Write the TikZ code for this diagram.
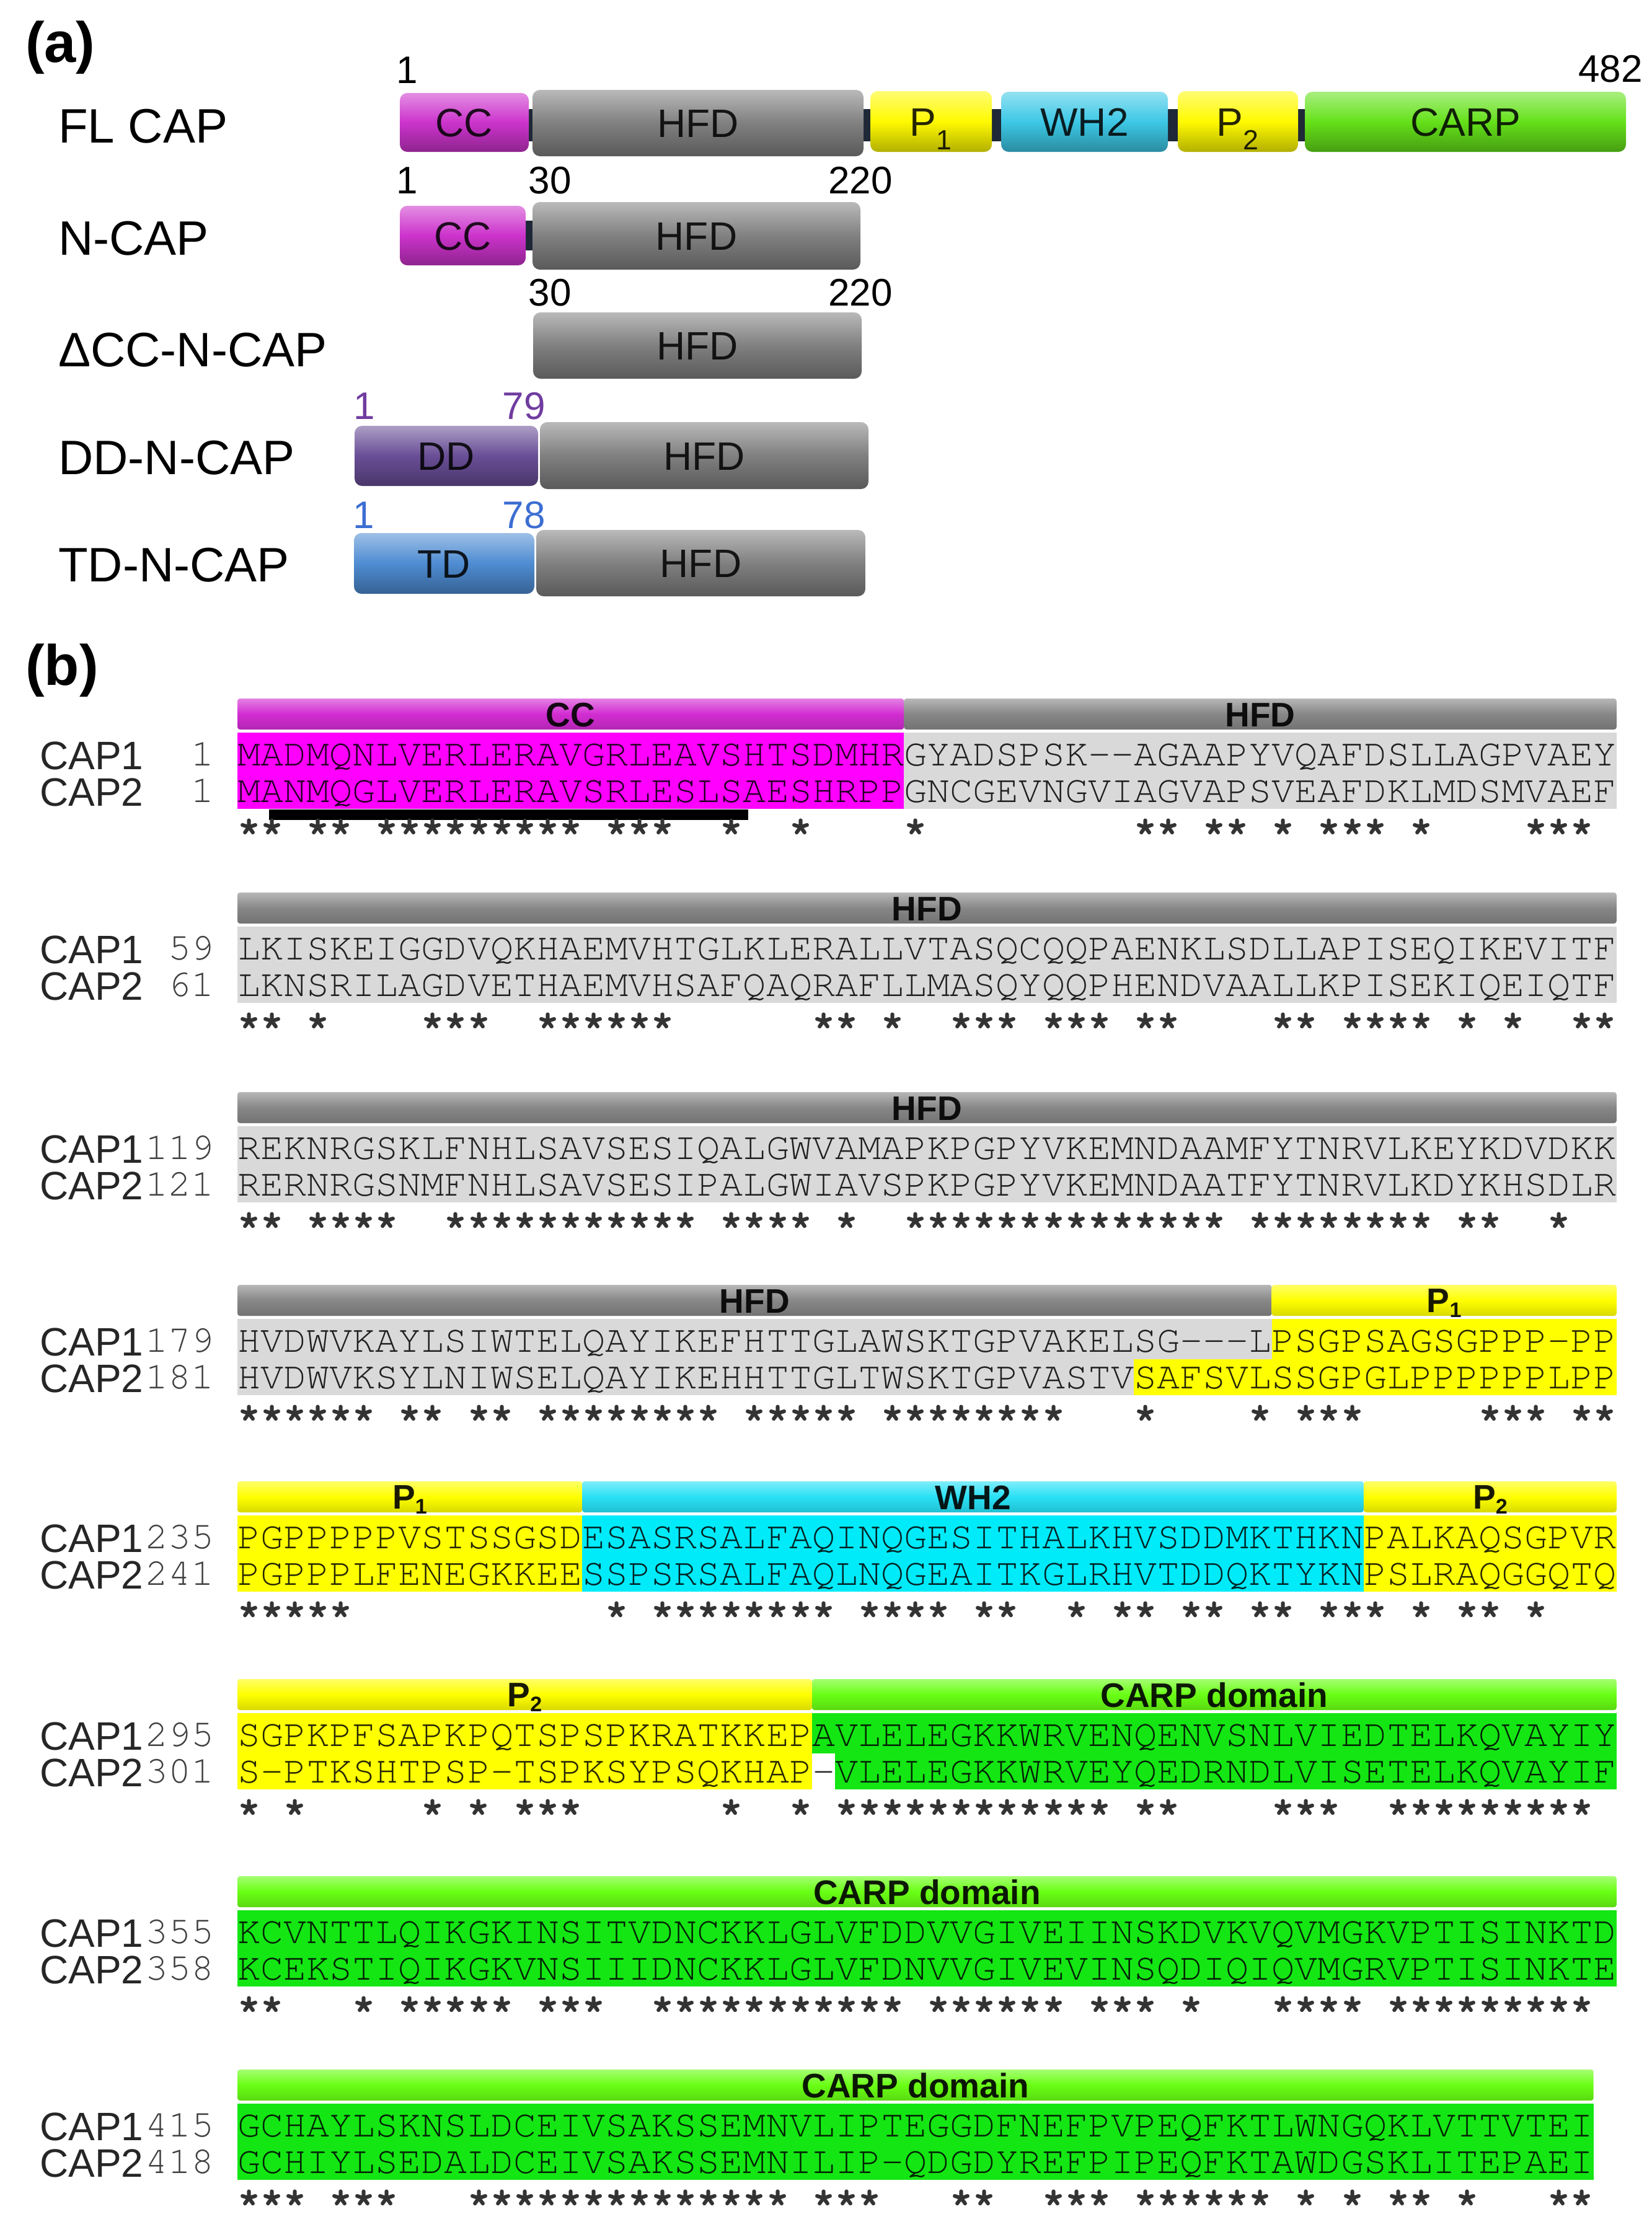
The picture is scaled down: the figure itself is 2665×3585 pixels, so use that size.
\documentclass[tikz,border=0pt]{standalone}
\usepackage[T1,TU]{fontenc}
\usepackage{fontspec}
\setmainfont{Liberation Sans}
\newcommand\cour{\fontencoding{T1}\fontfamily{pcr}\fontseries{m}\fontshape{n}\selectfont}
\newcommand\courb{\fontencoding{T1}\fontfamily{pcr}\fontseries{b}\fontshape{n}\selectfont}
\newcommand\psub[1]{\raisebox{-8pt}{\scalebox{0.62}{#1}}}
\def\starline#1{\stl#1\relax}
\def\stl#1{\ifx#1\relax\else\ifx#1.\ \else*\fi\expandafter\stl\fi}
% panel (a) colours
\definecolor{ccA}{RGB}{204,51,204}
\definecolor{hfdA}{RGB}{128,128,128}
\definecolor{pA}{RGB}{255,250,0}
\definecolor{whA}{RGB}{60,200,230}
\definecolor{carpA}{RGB}{100,225,25}
\definecolor{ddA}{RGB}{105,78,150}
\definecolor{tdA}{RGB}{78,140,210}
\definecolor{lnk}{RGB}{30,40,55}
\definecolor{ddnum}{RGB}{112,60,160}
\definecolor{tdnum}{RGB}{60,110,210}
% panel (b) colours
\definecolor{ccB}{RGB}{210,45,210}
\definecolor{hfdB}{RGB}{135,135,135}
\definecolor{pB}{RGB}{255,255,0}
\definecolor{whB}{RGB}{40,225,245}
\definecolor{carpB}{RGB}{105,255,20}
\definecolor{hMag}{RGB}{255,0,255}
\definecolor{hGray}{RGB}{217,217,217}
\definecolor{hYel}{RGB}{255,255,0}
\definecolor{hCyan}{RGB}{0,235,250}
\definecolor{hGreen}{RGB}{20,230,20}
\tikzset{
  plab/.style={font=\bfseries\fontsize{92}{100}\selectfont, inner sep=0, anchor=base west},
  lab/.style={font=\fontsize{78}{90}\selectfont, inner sep=0, anchor=base west},
  num/.style={font=\fontsize{62}{70}\selectfont, inner sep=0, anchor=base},
  dom/.style={font=\fontsize{64}{70}\selectfont, inner sep=0, anchor=base, text opacity=0.85},
  cyl/.style={rounded corners=12, top color=#1!55!white, bottom color=#1!70!black, middle color=#1},
  barsty/.style={rounded corners=4, top color=#1!60!white, bottom color=#1!85!black, middle color=#1},
  bl/.style={font=\bfseries\fontsize{55}{60}\selectfont, inner sep=0, anchor=base, text opacity=0.9},
  nm/.style={font=\fontsize{64}{70}\selectfont, inner sep=0, anchor=base west, text=black!85},
  sq/.style={font=\cour\fontsize{61.8}{70}\selectfont, inner sep=0, anchor=base west, text opacity=0.85},
  stq/.style={font=\courb\fontsize{61.8}{70}\selectfont, inner sep=0, anchor=base west, text=black!80},
  sqn/.style={font=\cour\fontsize{61.8}{70}\selectfont, inner sep=0, anchor=base east, text=black!75},
}
\newcommand\dom[7]{%
  \shade[cyl=#2] (#3,#4) rectangle (#5,#6);
  \node[dom] (#1) at ({(#3+#5)/2},{(#4+#6)/2+23}) {#7};}
\newcommand\alnrow[7]{%
  \node[nm] (#1na) at (64,#2+89) {CAP1};
  \node[nm] (#1nb) at (64,#2+148) {CAP2};
  \node[sqn] (#1ka) at (346,#2+83.5) {#3};
  \node[sqn] (#1kb) at (346,#2+142.5) {#4};
  \node[sq] (#1sa) at (383,#2+83.5) {#5};
  \node[sq] (#1sb) at (383,#2+142.5) {#6};
  \node[stq] (#1st) at (383,#2+198) {\starline{#7}};}
\begin{document}
\begin{tikzpicture}[x=1pt,y=-1pt]
\useasboundingbox (0,0) rectangle (2665,3585);
\fill[white] (0,0) rectangle (2665,3585);
% ================= panel (a)
\node[plab] (pa) at (41,100) {(a)};
\node[lab] (lfl) at (94,230) {FL CAP};
\node[lab] (lnc) at (94,411) {N-CAP};
\node[lab] (ldc) at (94,591) {ΔCC-N-CAP};
\node[lab] (ldd) at (94,765) {DD-N-CAP};
\node[lab] (ltd) at (94,938) {TD-N-CAP};
% linkers
\fill[lnk] (850,176) rectangle (2110,228);
\fill[lnk] (845,356) rectangle (865,404);
% FL CAP
\dom{fcc}{ccA}{645}{150}{853}{245}{CC}
\dom{fhfd}{hfdA}{859}{145}{1393}{252}{HFD}
\dom{fp1}{pA}{1404}{147}{1600}{245}{P\textsubscript{1}}
\dom{fwh}{whA}{1615}{148}{1884}{245}{WH2}
\dom{fp2}{pA}{1900}{147}{2094}{245}{P\textsubscript{2}}
\dom{fcarp}{carpA}{2105}{148}{2623}{245}{CARP}
\node[num] (n1a) at (657,134) {1};
\node[num, anchor=base east] (n482) at (2650,132) {482};
% N-CAP
\dom{ncc}{ccA}{645}{332}{848}{428}{CC}
\dom{nhfd}{hfdA}{859}{326}{1388}{435}{HFD}
\node[num] (n1b) at (657,312) {1};
\node[num] (n30b) at (887,312) {30};
\node[num] (n220b) at (1388,312) {220};
% dCC-N-CAP
\node[num] (n30c) at (887,493) {30};
\node[num] (n220c) at (1388,493) {220};
\dom{dhfd}{hfdA}{860}{504}{1390}{611}{HFD}
% DD-N-CAP
\dom{ddd}{ddA}{572}{687}{868}{784}{DD}
\dom{ddhfd}{hfdA}{871}{681}{1401}{789}{HFD}
\node[num, text=ddnum] (n1d) at (588,676) {1};
\node[num, text=ddnum] (n79d) at (845,676) {79};
% TD-N-CAP
\dom{ttd}{tdA}{571}{860}{862}{958}{TD}
\dom{thfd}{hfdA}{865}{855}{1396}{962}{HFD}
\node[num, text=tdnum] (n1t) at (587,852) {1};
\node[num, text=tdnum] (n78t) at (845,852) {78};
% ================= panel (b)
\node[plab] (pb) at (41,1105) {(b)};
% row 1
\fill[hMag] (383,1182) rectangle (1458.3,1305);
\fill[hGray] (1458.3,1182) rectangle (2607.8,1305);
\shade[barsty=ccB] (383,1127) rectangle (1458.3,1177);
\shade[barsty=hfdB] (1458.3,1127) rectangle (2607.8,1177);
\node[bl] (b1cc) at (920.6,1172) {CC};
\node[bl] (b1hfd) at (2033,1172) {HFD};
\fill[black] (434,1306) rectangle (1207,1323);
\alnrow{r1}{1152}{1}{1}{MADMQNLVERLERAVGRLEAVSHTSDMHRGYADSPSK-{}-AGAAPYVQAFDSLLAGPVAEY}{MANMQGLVERLERAVSRLESLSAESHRPPGNCGEVNGVIAGVAPSVEAFDKLMDSMVAEF}{**.**.*********.***..*..*....*.........**.**.*.***.*....***.}
% row 2
\fill[hGray] (383,1495) rectangle (2607.8,1618);
\shade[barsty=hfdB] (383,1440) rectangle (2607.8,1490);
\node[bl] (b2hfd) at (1495.4,1485) {HFD};
\alnrow{r2}{1465}{59}{61}{LKISKEIGGDVQKHAEMVHTGLKLERALLVTASQCQQPAENKLSDLLAPISEQIKEVITF}{LKNSRILAGDVETHAEMVHSAFQAQRAFLLMASQYQQPHENDVAALLKPISEKIQEIQTF}{**.*....***..******......**.*..***.***.**....**.****.*.*..**}
% row 3
\fill[hGray] (383,1817) rectangle (2607.8,1940);
\shade[barsty=hfdB] (383,1762) rectangle (2607.8,1812);
\node[bl] (b3hfd) at (1495.4,1807) {HFD};
\alnrow{r3}{1787}{119}{121}{REKNRGSKLFNHLSAVSESIQALGWVAMAPKPGPYVKEMNDAAMFYTNRVLKEYKDVDKK}{RERNRGSNMFNHLSAVSESIPALGWIAVSPKPGPYVKEMNDAATFYTNRVLKDYKHSDLR}{**.****..***********.****.*..**************.********.**..*}
% row 4
\fill[hGray] (383,2128) rectangle (2051.6,2193);
\fill[hYel] (2051.6,2128) rectangle (2607.8,2193);
\fill[hGray] (383,2193) rectangle (1829.1,2251);
\fill[hYel] (1829.1,2193) rectangle (2607.8,2251);
\shade[barsty=hfdB] (383,2073) rectangle (2051.6,2123);
\shade[barsty=pB] (2051.6,2073) rectangle (2607.8,2123);
\node[bl] (b4hfd) at (1217.3,2118) {HFD};
\node[bl] (b4p1) at (2329.7,2117) {P\psub{1}};
\alnrow{r4}{2098}{179}{181}{HVDWVKAYLSIWTELQAYIKEFHTTGLAWSKTGPVAKELSG-{}-{}-LPSGPSAGSGPPP-PP}{HVDWVKSYLNIWSELQAYIKEHHTTGLTWSKTGPVASTVSAFSVLSSGPGLPPPPPPLPP}{******.**.**.********.*****.********...*....*.***.....***.**}
% row 5
\fill[hYel] (383,2445) rectangle (939.2,2568);
\fill[hCyan] (939.2,2445) rectangle (2199.9,2568);
\fill[hYel] (2199.9,2445) rectangle (2607.8,2568);
\shade[barsty=pB] (383,2390) rectangle (939.2,2440);
\shade[barsty=whB] (939.2,2390) rectangle (2199.9,2440);
\shade[barsty=pB] (2199.9,2390) rectangle (2607.8,2440);
\node[bl] (b5p1) at (661.1,2434) {P\psub{1}};
\node[bl] (b5wh) at (1569.6,2435) {WH2};
\node[bl] (b5p2) at (2403.9,2434) {P\psub{2}};
\alnrow{r5}{2415}{235}{241}{PGPPPPPVSTSSGSDESASRSALFAQINQGESITHALKHVSDDMKTHKNPALKAQSGPVR}{PGPPPLFENEGKKEESSPSRSALFAQLNQGEAITKGLRHVTDDQKTYKNPSLRAQGGQTQ}{*****...........*.********.****.**..*.**.**.**.***.*.**.*}
% row 6
\fill[hYel] (383,2764) rectangle (1310,2887);
\fill[hGreen] (1310,2764) rectangle (2607.8,2829);
\fill[hGreen] (1347.1,2829) rectangle (2607.8,2887);
\shade[barsty=pB] (383,2709) rectangle (1310,2759);
\shade[barsty=carpB] (1310,2709) rectangle (2607.8,2759);
\node[bl] (b6p2) at (846.5,2753) {P\psub{2}};
\node[bl] (b6carp) at (1958.9,2754) {CARP domain};
\alnrow{r6}{2734}{295}{301}{SGPKPFSAPKPQTSPSPKRATKKEPAVLELEGKKWRVENQENVSNLVIEDTELKQVAYIY}{S-PTKSHTPSP-TSPKSYPSQKHAP-VLELEGKKWRVEYQEDRNDLVISETELKQVAYIF}{*.*.....*.*.***......*..*.************.**....***..*********}
% row 7
\fill[hGreen] (383,3082) rectangle (2607.8,3205);
\shade[barsty=carpB] (383,3027) rectangle (2607.8,3077);
\node[bl] (b7carp) at (1495.4,3072) {CARP domain};
\alnrow{r7}{3052}{355}{358}{KCVNTTLQIKGKINSITVDNCKKLGLVFDDVVGIVEIINSKDVKVQVMGKVPTISINKTD}{KCEKSTIQIKGKVNSIIIDNCKKLGLVFDNVVGIVEVINSQDIQIQVMGRVPTISINKTE}{**...*.*****.***..***********.******.***.*...****.*********}
% row 8
\fill[hGreen] (383,3394) rectangle (2570.7,3517);
\shade[barsty=carpB] (383,3339) rectangle (2570.7,3389);
\node[bl] (b8carp) at (1476.9,3384) {CARP domain};
\alnrow{r8}{3364}{415}{418}{GCHAYLSKNSLDCEIVSAKSSEMNVLIPTEGGDFNEFPVPEQFKTLWNGQKLVTTVTEI}{GCHIYLSEDALDCEIVSAKSSEMNILIP-QDGDYREFPIPEQFKTAWDGSKLITEPAEI}{***.***...**************.***...**..***.******.*.*.**.*...**}
\end{tikzpicture}
\end{document}
